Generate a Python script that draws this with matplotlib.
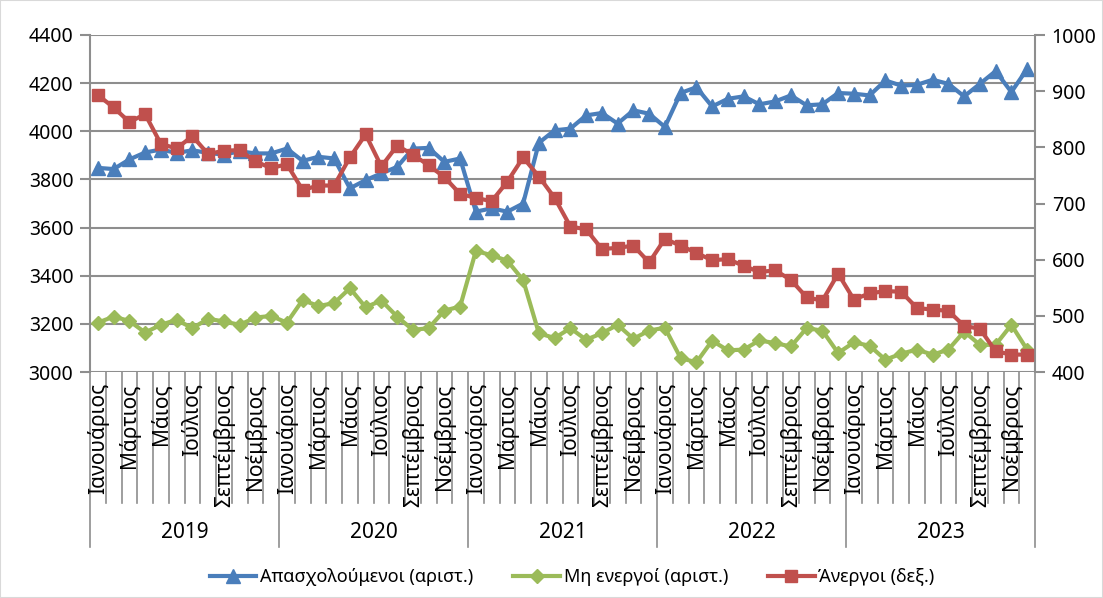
import numpy as np
import matplotlib.pyplot as plt
from matplotlib.lines import Line2D
from matplotlib.patches import Rectangle
import matplotlib.transforms as mtransforms

plt.rcParams['font.family'] = ['Noto Sans', 'DejaVu Sans']

# Data (thousands), Jan 2019 - Dec 2023
years = ['2019', '2020', '2021', '2022', '2023']
months = ['Ιανουάριος', 'Φεβρουάριος', 'Μάρτιος', 'Απρίλιος', 'Μάιος', 'Ιούνιος',
          'Ιούλιος', 'Αύγουστος', 'Σεπτέμβριος', 'Οκτώβριος', 'Νοέμβριος', 'Δεκέμβριος']

employed = [3848, 3843, 3883, 3912, 3924, 3910, 3921, 3910, 3903, 3917, 3908, 3908,
            3928, 3877, 3894, 3887, 3763, 3797, 3825, 3852, 3928, 3931, 3873, 3887,
            3666, 3680, 3666, 3700, 3952, 4004, 4011, 4066, 4076, 4032, 4087, 4073,
            4018, 4159, 4183, 4103, 4135, 4145, 4112, 4124, 4149, 4108, 4112, 4159,
            4156, 4149, 4211, 4190, 4193, 4214, 4197, 4145, 4197, 4250, 4163, 4259]

inactive = [3205, 3230, 3212, 3164, 3196, 3217, 3182, 3221, 3210, 3196, 3226, 3233,
            3205, 3299, 3274, 3286, 3348, 3269, 3297, 3230, 3175, 3182, 3255, 3272,
            3503, 3485, 3462, 3382, 3161, 3141, 3182, 3134, 3161, 3196, 3138, 3172,
            3184, 3058, 3040, 3130, 3090, 3093, 3131, 3120, 3106, 3182, 3172, 3079,
            3123, 3109, 3051, 3076, 3093, 3072, 3093, 3168, 3113, 3113, 3196, 3093]

unemployed = [893, 871, 845, 859, 806, 798, 820, 788, 794, 795, 775, 763,
              770, 724, 732, 732, 782, 823, 766, 803, 787, 768, 747, 717,
              710, 704, 739, 782, 748, 710, 659, 654, 619, 621, 625, 595,
              637, 625, 612, 599, 601, 589, 578, 581, 564, 533, 527, 575,
              529, 540, 544, 543, 514, 511, 509, 482, 477, 437, 431, 431]

blue = '#4A7EBB'
green = '#9BBB59'
red = '#C0504D'
grid_c = '#8E8E8E'

W, H = 1103, 598
fig = plt.figure(figsize=(W / 100, H / 100), dpi=100)
fig.patches.append(Rectangle((0, 0), 1, 1, transform=fig.transFigure, fill=False,
                             edgecolor='#D9D9D9', lw=1.5))

ax = fig.add_axes([90 / W, 1 - 372 / H, 945 / W, 337 / H])
ax2 = ax.twinx()

x = np.arange(len(employed))
ax.plot(x, employed, color=blue, lw=3, marker='^', ms=10, zorder=3)
ax.plot(x, inactive, color=green, lw=3, marker='D', ms=7.5, zorder=3)
ax2.plot(x, unemployed, color=red, lw=3, marker='s', ms=8.5, zorder=3)

ax.set_xlim(-0.5, len(x) - 0.5)
ax.set_ylim(3000, 4400)
ax.set_yticks(range(3000, 4401, 200))
ax2.set_ylim(400, 1000)
ax2.set_yticks(range(400, 1001, 100))

ax.grid(axis='y', color=grid_c, lw=1.5)
ax.set_axisbelow(True)
for a in (ax, ax2):
    for s in ('top', 'bottom'):
        a.spines[s].set_visible(False)
    a.spines['left'].set_color(grid_c)
    a.spines['right'].set_color(grid_c)
    a.spines['left'].set_linewidth(1.5)
    a.spines['right'].set_linewidth(1.5)
    a.tick_params(axis='y', length=7, width=1.5, color=grid_c, labelsize=14, pad=5)
ax2.spines['left'].set_visible(False)
ax.spines['right'].set_visible(False)
ax.set_xticks([])

# category axis: month dividers, labels, year groups
tr = mtransforms.blended_transform_factory(ax.transData, fig.transFigure)
y_axis = 1 - 372 / H
y_month = 1 - 503 / H
y_year = 1 - 547 / H
for k in range(len(x) + 1):
    bottom = y_year if k % 12 == 0 else y_month
    fig.add_artist(Line2D([k - 0.5, k - 0.5], [y_axis, bottom], transform=tr,
                          color=grid_c, lw=1.2))
for k in range(0, len(x), 2):
    fig.text(k, 1 - 383 / H, months[k % 12], transform=tr, rotation=90,
             ha='center', va='top', fontsize=15)
for i, yr in enumerate(years):
    fig.text(12 * i + 5.5, 1 - 533 / H, yr, transform=tr, ha='center',
             va='center', fontsize=15)

handles = [Line2D([], [], color=blue, lw=3, marker='^', ms=10),
           Line2D([], [], color=green, lw=3, marker='D', ms=7.5),
           Line2D([], [], color=red, lw=3, marker='s', ms=8.5)]
labels = ['Απασχολούμενοι (αριστ.)', 'Μη ενεργοί (αριστ.)', 'Άνεργοι (δεξ.)']
fig.legend(handles, labels, loc='center', bbox_to_anchor=(572 / W, 1 - 577 / H),
           ncol=3, frameon=False, fontsize=13, handlelength=2.6,
           handletextpad=0.2, columnspacing=2.2)

fig.savefig('out.png', dpi=100)
